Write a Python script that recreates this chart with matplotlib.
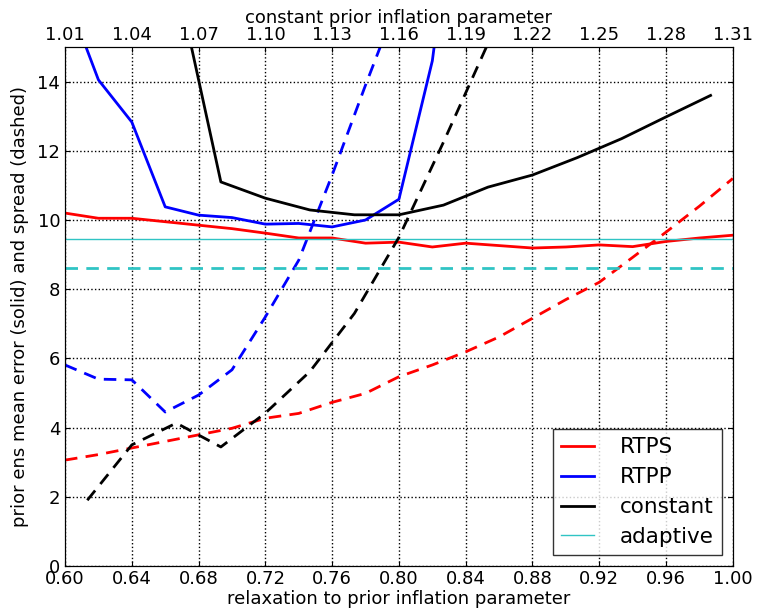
import numpy as np
import matplotlib
matplotlib.use('Agg')
import matplotlib.pyplot as plt
from matplotlib.lines import Line2D

# relaxation parameter (bottom axis)
relax = [0.60, 0.62, 0.64, 0.66, 0.68, 0.70, 0.72, 0.74, 0.76, 0.78, 0.80,
         0.82, 0.84, 0.86, 0.88, 0.90, 0.92, 0.94, 0.96, 0.98, 1.00]
rtps_err = [10.2, 10.05, 10.05, 9.95, 9.85, 9.75, 9.62, 9.48, 9.48, 9.33, 9.36,
            9.22, 9.33, 9.26, 9.19, 9.22, 9.28, 9.23, 9.38, 9.48, 9.56]
rtps_spread = [3.06, 3.22, 3.41, 3.6, 3.79, 3.98, 4.27, 4.41, 4.73, 4.99, 5.47,
               5.81, 6.19, 6.62, 7.16, 7.7, 8.2, 8.92, 9.65, 10.4, 11.2]
rtpp_err = [16.6, 14.05, 12.83, 10.38, 10.14, 10.07, 9.88, 9.9, 9.8, 10.0, 10.6,
            14.6, 22.0, 30.0, 38.0, 46.0, 54.0, 62.0, 70.0, 78.0, 86.0]
rtpp_spread = [5.81, 5.4, 5.38, 4.45, 4.94, 5.67, 7.2, 8.84, 11.3, 13.9, 16.4,
               19.0, 21.5, 24.0, 26.5, 29.0, 31.5, 34.0, 36.5, 39.0, 41.5]

# constant inflation parameter (top axis)
const = [1.02, 1.04, 1.06, 1.08, 1.10, 1.12, 1.14, 1.16, 1.18, 1.20, 1.22,
         1.24, 1.26, 1.28, 1.30]
const_err = [35.0, 22.0, 17.0, 11.1, 10.63, 10.29, 10.15, 10.15, 10.43, 10.95,
             11.3, 11.8, 12.35, 12.98, 13.6]
const_spread = [1.9, 3.5, 4.13, 3.44, 4.42, 5.62, 7.3, 9.5, 12.25, 15.1, 17.8,
                20.5, 23.2, 25.9, 28.6]

adapt_err = 9.45
adapt_spread = 8.6

plt.rcParams['font.size'] = 13
plt.rcParams['xtick.direction'] = 'in'
plt.rcParams['ytick.direction'] = 'in'

dash = (4.5, 3)
cyan = '#30c4c4'

fig = plt.figure(figsize=(7.58, 6.12), dpi=100)
ax = fig.add_axes([0.0858, 0.0752, 0.881, 0.848])

ax.plot(relax, rtps_err, color='r', lw=2)
ax.plot(relax, rtps_spread, color='r', lw=2, ls='--', dashes=dash)
ax.plot(relax, rtpp_err, color='b', lw=2)
ax.plot(relax, rtpp_spread, color='b', lw=2, ls='--', dashes=dash)
ax.axhline(adapt_err, color=cyan, lw=1)
ax.axhline(adapt_spread, color=cyan, lw=2, ls='--', dashes=dash)

ax.set_xlim(0.60, 1.00)
ax.set_ylim(0, 15)
ax.set_xticks(np.arange(0.60, 1.001, 0.04))
ax.set_xticklabels(['%.2f' % v for v in np.arange(0.60, 1.001, 0.04)])
ax.set_yticks(np.arange(0, 15, 2))
ax.yaxis.set_ticks_position('both')
ax.grid(True, color='k', ls=':', lw=1)
ax.set_xlabel('relaxation to prior inflation parameter', labelpad=1)
ax.set_ylabel('prior ens mean error (solid) and spread (dashed)', labelpad=6)

ax2 = ax.twiny()
ax2.plot(const, const_err, color='k', lw=2)
ax2.plot(const, const_spread, color='k', lw=2, ls='--', dashes=dash)
ax2.set_xlim(1.01, 1.31)
ax2.set_xticks(np.arange(1.01, 1.311, 0.03))
ax2.set_xticklabels(['%.2f' % v for v in np.arange(1.01, 1.311, 0.03)])
ax2.set_xlabel('constant prior inflation parameter', labelpad=2)
ax2.tick_params(axis='x', pad=2)
ax.tick_params(axis='x', pad=3)

handles = [Line2D([], [], color='r', lw=2),
           Line2D([], [], color='b', lw=2),
           Line2D([], [], color='k', lw=2),
           Line2D([], [], color=cyan, lw=1)]
leg = ax2.legend(handles, ['RTPS', 'RTPP', 'constant', 'adaptive'],
                 loc='lower right', fontsize=15.5, fancybox=False,
                 handlelength=1.55, handletextpad=1.2, borderpad=0.38,
                 labelspacing=0.46, borderaxespad=0.5)
leg.get_frame().set_edgecolor('k')

fig.savefig('out.png', dpi=100)
